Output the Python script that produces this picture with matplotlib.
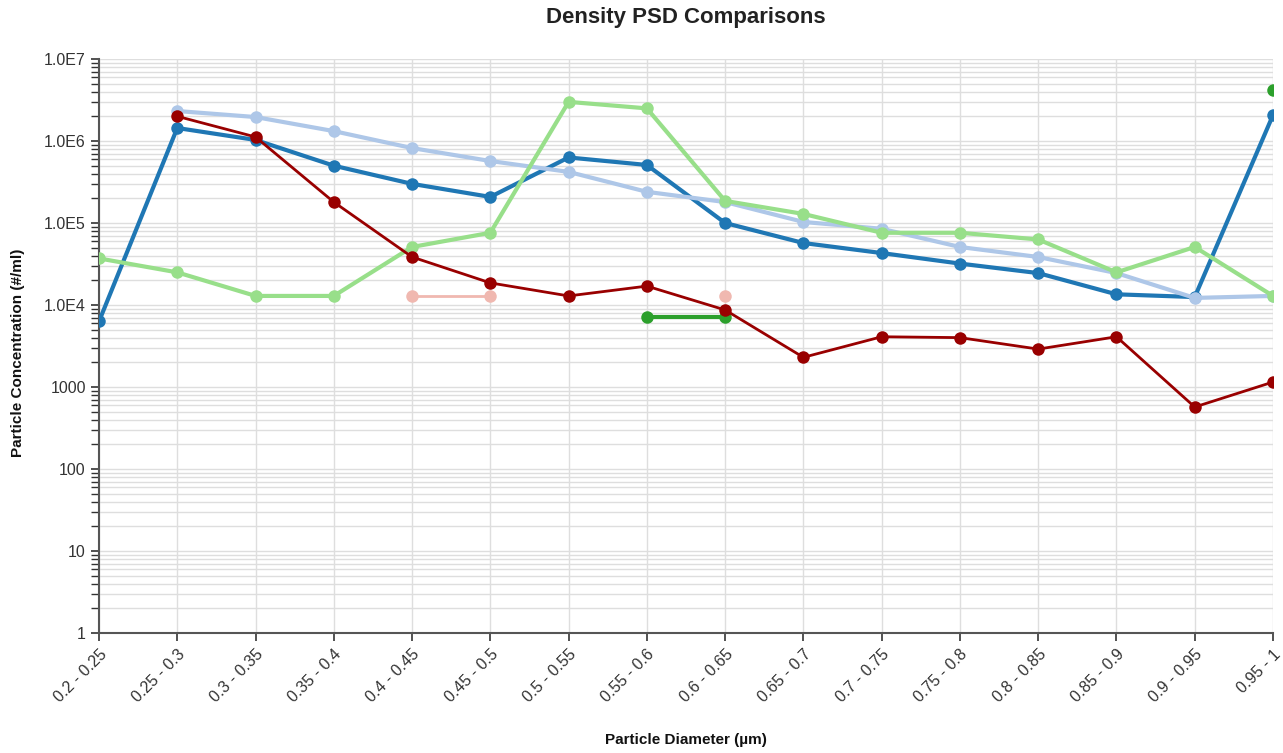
import matplotlib
matplotlib.use("Agg")
import matplotlib.pyplot as plt
import numpy as np
from matplotlib.ticker import LogLocator, FixedLocator, FuncFormatter, NullFormatter

plt.rcParams['font.family'] = ['Liberation Sans', 'DejaVu Sans']

categories = ["0.2 - 0.25", "0.25 - 0.3", "0.3 - 0.35", "0.35 - 0.4", "0.4 - 0.45",
              "0.45 - 0.5", "0.5 - 0.55", "0.55 - 0.6", "0.6 - 0.65", "0.65 - 0.7",
              "0.7 - 0.75", "0.75 - 0.8", "0.8 - 0.85", "0.85 - 0.9", "0.9 - 0.95",
              "0.95 - 1"]

nan = np.nan
dark_blue = [6300, 1.44e6, 1.03e6, 5.0e5, 3.0e5, 2.08e5, 6.3e5, 5.1e5, 1.0e5,
             5.7e4, 4.3e4, 3.2e4, 2.45e4, 1.35e4, 1.25e4, 2.07e6]
light_blue = [nan, 2.32e6, 1.96e6, 1.32e6, 8.2e5, 5.7e5, 4.2e5, 2.4e5, 1.8e5,
              1.03e5, 8.5e4, 5.1e4, 3.85e4, 2.45e4, 1.22e4, 1.29e4]
dark_green = [nan, nan, nan, nan, nan, nan, nan, 7100, 7100,
              nan, nan, nan, nan, nan, nan, 4.2e6]
light_green = [3.7e4, 2.5e4, 1.29e4, 1.29e4, 5.1e4, 7.6e4, 3.0e6, 2.5e6, 1.86e5,
               1.29e5, 7.6e4, 7.6e4, 6.3e4, 2.5e4, 5.1e4, 1.29e4]
dark_red = [nan, 2.0e6, 1.12e6, 1.8e5, 3.85e4, 1.86e4, 1.29e4, 1.7e4, 8700,
            2300, 4100, 4000, 2900, 4100, 570, 1150]
pink = [nan, nan, nan, nan, 1.29e4, 1.29e4, nan, nan, 1.29e4,
        nan, nan, nan, nan, nan, nan, nan]

series = [
    (dark_blue, '#1f77b4', 3.0),
    (light_blue, '#aec7e8', 3.0),
    (dark_green, '#2ca02c', 3.0),
    (light_green, '#98df8a', 3.0),
    (dark_red, '#990000', 2.0),
    (pink, '#f0b8b0', 2.0),
]

fig = plt.figure(figsize=(12.83, 7.53), dpi=100)
ax = fig.add_axes([99/1283, 1-633/753, (1273-99)/1283, (633-59)/753])

x = np.arange(len(categories))
for vals, col, lw in series:
    ax.plot(x, vals, color=col, lw=lw, marker='o', markersize=9,
            markeredgewidth=0, solid_capstyle='round', zorder=3)

ax.set_yscale('log')
ax.set_ylim(1, 1e7)
ax.set_xlim(0, len(categories)-1)

ax.yaxis.set_major_locator(FixedLocator([10**k for k in range(8)]))
ax.yaxis.set_minor_locator(LogLocator(base=10, subs=np.arange(2, 10), numticks=100))
ax.yaxis.set_minor_formatter(NullFormatter())

def fmt(v, pos):
    k = int(round(np.log10(v)))
    if k <= 3:
        return str(int(round(v)))
    return "1.0E%d" % k
ax.yaxis.set_major_formatter(FuncFormatter(fmt))

ax.set_xticks(x)
ax.set_xticklabels(categories, rotation=45, ha='right', va='top',
                   rotation_mode='anchor', fontsize=11.5, color='#333333')
ax.tick_params(axis='y', which='major', labelsize=11.5, labelcolor='#333333',
               length=6, width=1.2, color='#333333')
ax.tick_params(axis='y', which='minor', length=6, width=1.0, color='#333333')
ax.tick_params(axis='x', length=6, width=1.2, color='#333333', pad=4)

ax.grid(True, which='both', axis='y', color='#dedede', lw=1.0, zorder=0)
ax.grid(True, which='major', axis='x', color='#dedede', lw=1.0, zorder=0)
ax.set_axisbelow(True)

for s in ['top', 'right']:
    ax.spines[s].set_visible(False)
for s in ['left', 'bottom']:
    ax.spines[s].set_color('#555555')
    ax.spines[s].set_linewidth(1.5)

fig.text(686/1283, 1-18/753, "Density PSD Comparisons", ha='center', va='center',
         fontsize=16, fontweight='bold', color='#222222')
fig.text(686/1283, 1-740/753, "Particle Diameter (µm)", ha='center', va='center',
         fontsize=11, fontweight='bold', color='#111111')
fig.text(18/1283, 1-353/753, "Particle Concentration (#/ml)", ha='center', va='center',
         rotation=90, fontsize=11, fontweight='bold', color='#111111')

fig.savefig("out.png", dpi=100)
